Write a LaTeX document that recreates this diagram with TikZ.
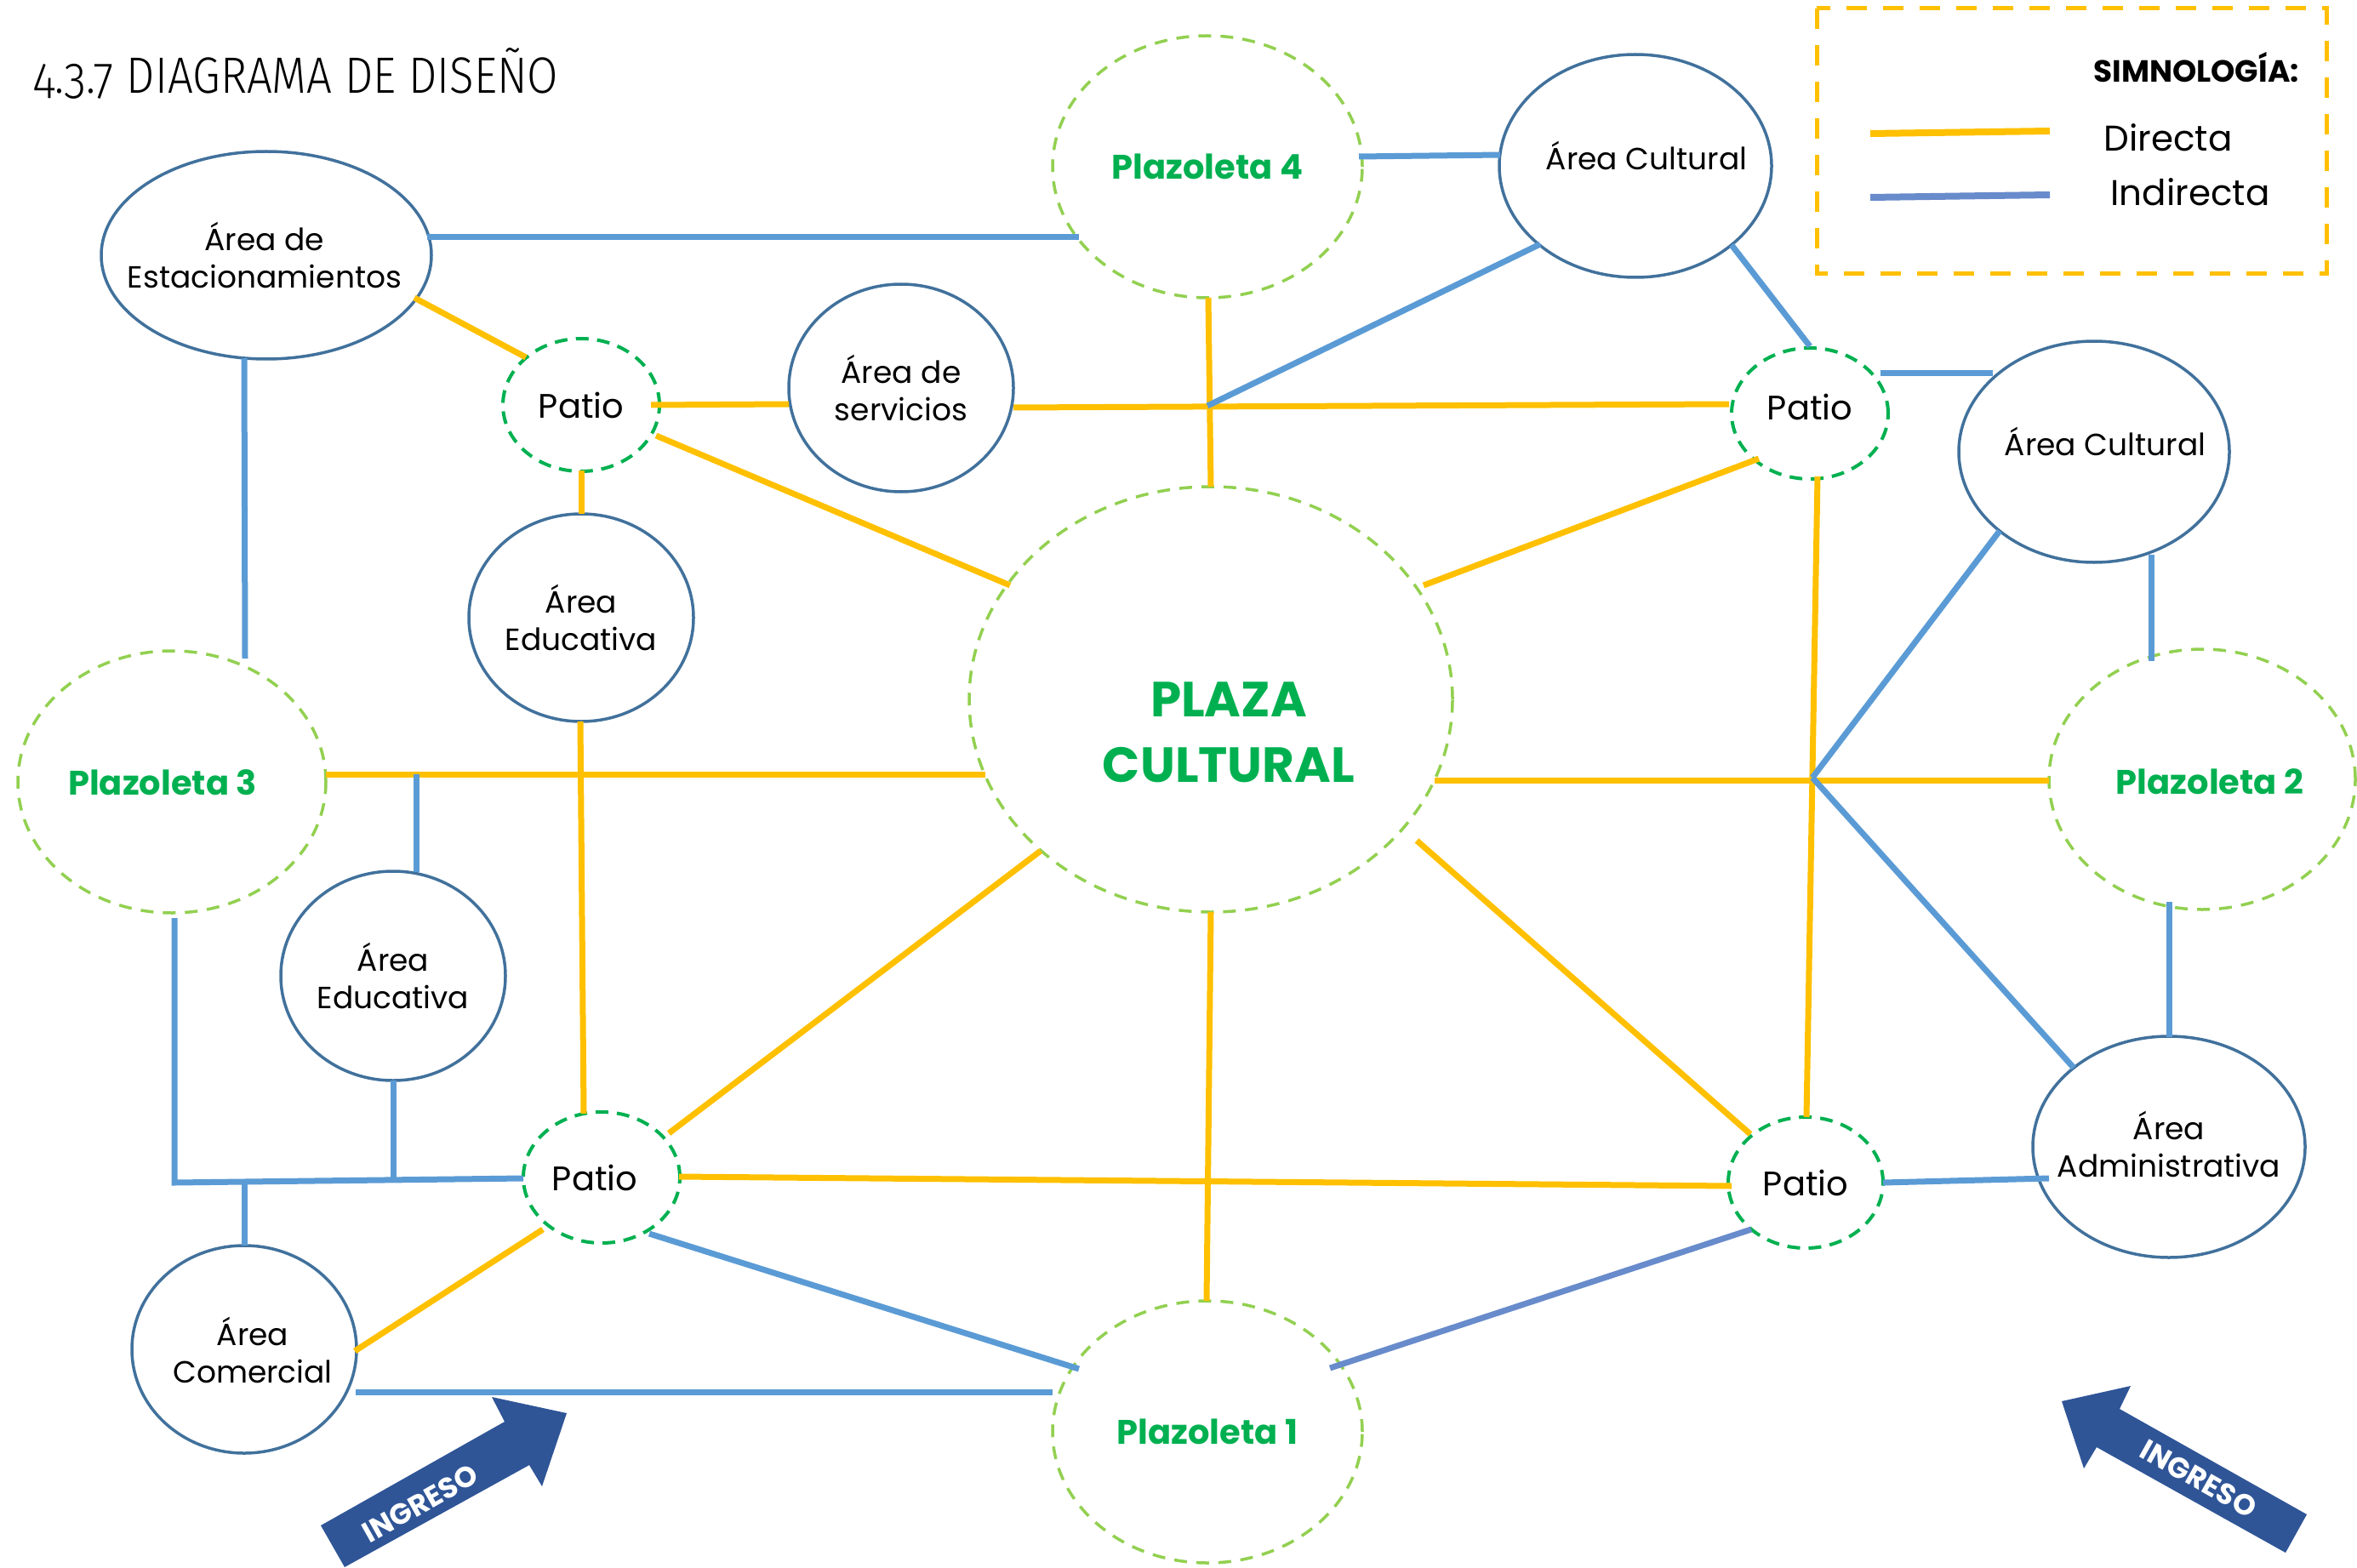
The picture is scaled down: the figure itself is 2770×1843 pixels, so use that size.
\documentclass[tikz,border=0pt]{standalone}
\usepackage{fontspec}
\setmainfont{Poppins}
\IfFontExistsTF{Fira Sans Light}{\newfontfamily\titlefont[Numbers=OldStyle,FakeStretch=0.88]{Fira Sans Light}}{\newfontfamily\titlefont[Numbers=OldStyle,FakeStretch=0.88]{Fira Sans}}
\usetikzlibrary{shapes.geometric,calc}
\definecolor{diryellow}{HTML}{FFC000}
\definecolor{indblue}{HTML}{5B9BD5}
\definecolor{indbluetwo}{HTML}{688BCB}
\definecolor{areablue}{HTML}{41719C}
\definecolor{patiogreen}{HTML}{00B050}
\definecolor{plazgreen}{HTML}{92D050}
\definecolor{textgreen}{HTML}{00B050}
\definecolor{arrowblue}{HTML}{2F5597}
\newcommand\areafont{\fontsize{36}{44}\selectfont}
\newcommand\patiofont{\fontsize{40}{48}\selectfont}
\newcommand\plazfont{\fontsize{40}{48}\selectfont\bfseries}
\begin{document}
\begin{tikzpicture}[x=1pt,y=-1pt,
  dims/.style 2 args={minimum width={2*#1pt}, minimum height={2*#2pt}},
  area/.style={ellipse, draw=areablue, line width=3.5pt, inner sep=0pt, outer sep=0pt, align=center, font=\areafont},
  patio/.style={ellipse, draw=patiogreen, line width=4pt, dash pattern=on 15pt off 10pt, inner sep=0pt, outer sep=0pt, font=\patiofont},
  plazo/.style={ellipse, draw=plazgreen, line width=3.5pt, dash pattern=on 15pt off 11pt, inner sep=0pt, outer sep=0pt, font=\plazfont, text=textgreen},
  txt/.style={inner sep=0pt, align=center},
  dirline/.style={draw=diryellow, line width=7pt},
  indline/.style={draw=indblue, line width=7pt},
  indlinetwo/.style={draw=indbluetwo, line width=7pt},
  ingreso/.style={fill=arrowblue},
  ingtext/.style={inner sep=0pt, text=white, font=\fontsize{34}{40}\selectfont\bfseries},
]
\useasboundingbox (0,0) rectangle (2770,1843);

% title
\node[txt, anchor=base west, font=\titlefont\fontsize{60}{64}\selectfont] (title) at (39,110) {4.3.7 DIAGRAMA DE DISEÑO};

% legend
\draw[draw=diryellow, line width=5pt, dash pattern=on 24pt off 19pt] (2135,10) rectangle (2734,322);
\node[txt, anchor=base, font=\fontsize{36}{40}\selectfont\bfseries] (legtitle) at (2581,97) {SIMNOLOGÍA:};
\coordinate (ly1) at (2198,157); \coordinate (ly2) at (2409,154);
\coordinate (lb1) at (2198,232); \coordinate (lb2) at (2409,229);
\draw[draw=diryellow, line width=8pt] (ly1) -- (ly2);
\draw[draw=indbluetwo, line width=8pt] (lb1) -- (lb2);
\node[txt, anchor=base, font=\fontsize{42}{46}\selectfont] (legdir) at (2548,178) {Directa};
\node[txt, anchor=base, font=\fontsize{42}{46}\selectfont] (legind) at (2574,242) {Indirecta};

% nodes
\node[area, dims={194}{122}] (estac) at (313,300) {};
\node[txt, font=\areafont] (estact) at (311,300) {Área de\\Estacionamientos};
\node[plazo, dims={182}{154}] (pl4) at (1419,196) {Plazoleta 4};
\node[area, dims={160}{131}] (cultT) at (1922,195) {};
\node[txt, font=\areafont] (cultTt) at (1935,183) {Área Cultural};
\node[patio, dims={92}{78}] (ptl) at (683,476) {Patio};
\node[area, dims={132}{122}] (serv) at (1059,456) {};
\node[txt, font=\areafont] (servt) at (1059,456) {Área de\\servicios};
\node[patio, dims={92}{77}] (ptr) at (2127,486) {};
\node[txt, font=\patiofont] (ptrt) at (2127,478) {Patio};
\node[area, dims={159}{130}] (cultR) at (2461,531) {};
\node[txt, font=\areafont] (cultRt) at (2474,519) {Área Cultural};
\node[area, dims={132}{122}] (eduU) at (683,726) {};
\node[txt, font=\areafont] (eduUt) at (683,726) {Área\\Educativa};
\node[plazo, dims={284}{250}] (plaza) at (1423,822) {};
\node[txt, text=textgreen, font=\fontsize{58}{77}\selectfont\bfseries] (plazat) at (1444,861) {PLAZA\\CULTURAL};
\node[plazo, dims={181}{154}] (pl3) at (202,919) {};
\node[txt, text=textgreen, font=\plazfont] (pl3t) at (191,920) {Plazoleta 3};
\node[plazo, dims={180}{153}] (pl2) at (2588,916) {};
\node[txt, text=textgreen, font=\plazfont] (pl2t) at (2597,919) {Plazoleta 2};
\node[area, dims={132}{123}] (eduL) at (462,1147) {};
\node[txt, font=\areafont] (eduLt) at (462,1147) {Área\\Educativa};
\node[patio, dims={92}{77}] (pbl) at (707,1384) {};
\node[txt, font=\patiofont] (pblt) at (699,1384) {Patio};
\node[patio, dims={91}{77}] (pbr) at (2122,1390) {Patio};
\node[area, dims={160}{130}] (admin) at (2549,1348) {};
\node[txt, font=\areafont] (admint) at (2549,1345) {Área\\Administrativa};
\node[area, dims={132}{122}] (comm) at (287,1586) {};
\node[txt, font=\areafont] (commt) at (297,1587) {Área\\Comercial};
\node[plazo, dims={182}{154}] (pl1) at (1419,1683) {Plazoleta 1};

% junctions
\coordinate (j1) at ($(pl4)+(0,281)$);
\coordinate (j2) at ($(pl2)+(-458,-2)$);
\coordinate (bus) at ($(pl3)+(3,471)$);
\coordinate (y8a) at ($(pl3)+(181,-9)$);
\coordinate (b17a) at ($(eduL)+(27,-122)$);
\coordinate (b16a) at ($(eduL)+(0,123)$);
\coordinate (b18a) at ($(comm)+(0,-122)$);

% directa (yellow)
\draw[dirline] ($(estac)+(174,50)$) -- ($(ptl)+(-65,-56)$);
\draw[dirline] ($(ptl)+(82,0)$) -- ($(serv)+(-132,19)$);
\draw[dirline] ($(ptl)+(88,36)$) -- ($(plaza)+(-236,-134)$);
\draw[dirline] ($(ptl)+(0,77)$) -- ($(eduU)+(0,-122)$);
\draw[dirline] ($(serv)+(132,23)$) -- ($(ptr)+(-95,-11)$);
\draw[dirline] ($(pl4)+(1,154)$) -- ($(plaza)+(0,-250)$);
\draw[dirline] ($(plaza)+(250,-134)$) -- ($(ptr)+(-60,53)$);
\draw[dirline] (y8a) -- ($(plaza)+(-265,88)$);
\draw[dirline] ($(plaza)+(263,95)$) -- ($(pl2)+(-180,1)$);
\draw[dirline] ($(eduU)+(-1,122)$) -- ($(pbl)+(-21,-75)$);
\draw[dirline] ($(plaza)+(-200,178)$) -- ($(pbl)+(79,-52)$);
\draw[dirline] ($(plaza)+(0,250)$) -- ($(pl1)+(-1,-154)$);
\draw[dirline] ($(plaza)+(242,166)$) -- ($(pbr)+(-65,-57)$);
\draw[dirline] ($(ptr)+(9,74)$) -- ($(pbr)+(1,-77)$);
\draw[dirline] ($(pbl)+(91,-1)$) -- ($(pbr)+(-87,4)$);
\draw[dirline] ($(pbl)+(-69,61)$) -- ($(comm)+(130,2)$);

% indirecta (blue)
\draw[indline] ($(estac)+(189,-21)$) -- ($(pl4)+(-151,83)$);
\draw[indline] ($(pl4)+(178,-12)$) -- ($(cultT)+(-159,-13)$);
\draw[indline] ($(cultT)+(-112,92)$) -- (j1);
\draw[indline] ($(cultT)+(113,93)$) -- ($(ptr)+(0,-79)$);
\draw[indline] ($(ptr)+(83,-48)$) -- ($(cultR)+(-119,-93)$);
\draw[indline] ($(cultR)+(67,121)$) -- ($(pl2)+(-60,-139)$);
\draw[indline] ($(cultR)+(-111,93)$) -- (j2);
\draw[indline] (j2) -- ($(admin)+(-112,-93)$);
\draw[indline] ($(pl2)+(-39,144)$) -- ($(admin)+(0,-129)$);
\draw[indline] ($(pbr)+(91,0)$) -- ($(admin)+(-141,37)$);
\draw[indlinetwo] ($(pbr)+(-64,55)$) -- ($(pl1)+(144,-75)$);
\draw[indline] ($(pbl)+(56,66)$) -- ($(pl1)+(-151,-74)$);
\draw[indline] ($(comm)+(131,50)$) -- ($(pl1)+(-182,-47)$);
\draw[indline] ($(estac)+(-26,121)$) -- ($(pl3)+(86,-145)$);
\draw[indline] ($(pl3)+(3,160)$) -- (bus) -- ($(pbl)+(-92,1)$);
\draw[indline] (b16a) -- (b16a |- bus);
\draw[indline] (b17a) -- (b17a |- y8a);
\draw[indline] (b18a) -- (b18a |- bus);

% ingreso arrows
\fill[ingreso] (377,1793) -- (593,1671) -- (578,1642) -- (666,1661) -- (637,1747) -- (622,1722) -- (405,1842) -- cycle;
\node[ingtext, rotate=29.4] (ing1) at (494,1767) {INGRESO};
\fill[ingreso] (2423,1647) -- (2504,1629) -- (2491,1656) -- (2711,1780) -- (2686,1825) -- (2464,1701) -- (2449,1726) -- cycle;
\node[ingtext, rotate=-29.4] (ing2) at (2584,1738) {INGRESO};
\end{tikzpicture}
\end{document}
